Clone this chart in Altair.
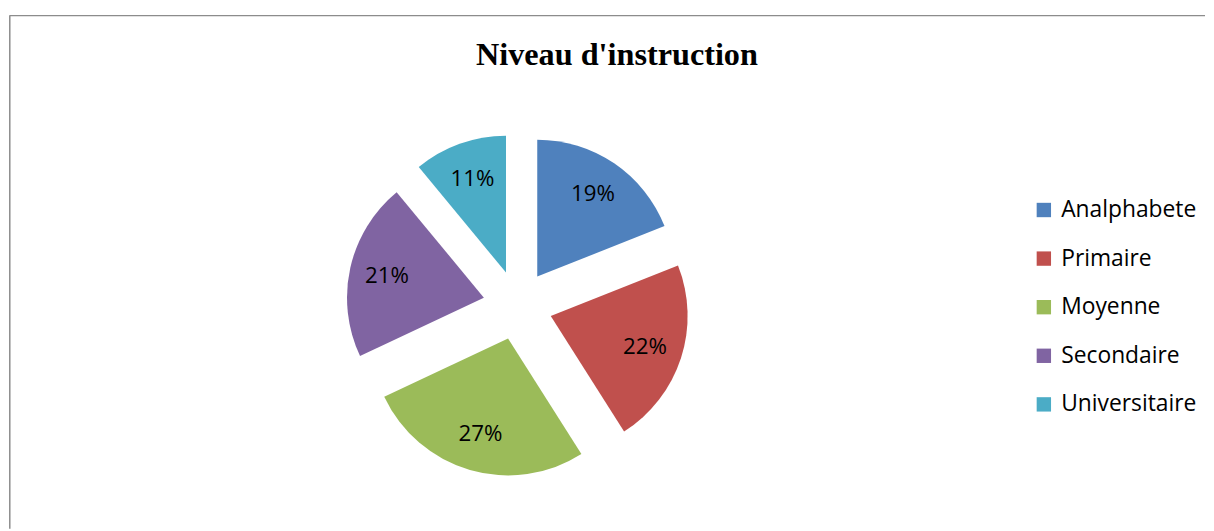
import altair as alt
import pandas as pd

# ---- data ----
categories = ["Analphabete", "Primaire", "Moyenne", "Secondaire", "Universitaire"]
values = [19, 22, 27, 21, 11]
colors = ["#4F81BD", "#C0504D", "#9BBB59", "#8064A2", "#4BACC6"]
title_text = "Niveau d'instruction"

# ---- layout ----
W, H = 1206, 523
CX, CY = 513, 297.5
R = 138
EXPLODE = 35
LABEL_R = 135

df = pd.DataFrame({"cat": categories, "value": values, "order": list(range(len(categories)))})

base = (
    alt.Chart(df)
    .transform_window(cum="sum(value)", sort=[alt.SortField("order")], frame=[None, 0])
    .transform_joinaggregate(total="sum(value)")
    .transform_calculate(
        t0="2*PI*(datum.cum - datum.value)/datum.total",
        t1="2*PI*datum.cum/datum.total",
        mid="2*PI*(datum.cum - datum.value/2)/datum.total",
    )
    .transform_calculate(
        px=f"{CX} + {EXPLODE}*sin(datum.mid)",
        py=f"{CY} - {EXPLODE}*cos(datum.mid)",
        lx=f"{CX} + {LABEL_R}*sin(datum.mid)",
        ly=f"{CY} - {LABEL_R}*cos(datum.mid)",
        label="datum.value + '%'",
    )
)

arcs = base.mark_arc(outerRadius=R, stroke=None).encode(
    x=alt.X("px:Q", scale=None),
    y=alt.Y("py:Q", scale=None),
    theta=alt.Theta("t0:Q", scale=None),
    theta2="t1:Q",
    color=alt.Color(
        "cat:N",
        scale=alt.Scale(domain=categories, range=colors),
        sort=categories,
        legend=alt.Legend(
            title=None,
            orient="none",
            legendX=1032,
            legendY=190,
            symbolType="square",
            symbolSize=210,
            symbolStrokeWidth=0,
            labelFont="Open Sans",
            labelFontSize=23,
            labelColor="#000000",
            labelOffset=6,
            rowPadding=25,
            padding=0,
        ),
    ),
)

labels = base.mark_text(
    font="Open Sans", fontSize=22.5, color="#000000", align="center", baseline="middle"
).encode(
    x=alt.X("lx:Q", scale=None),
    y=alt.Y("ly:Q", scale=None),
    text="label:N",
)

title = alt.Chart(pd.DataFrame({"t": [title_text]})).mark_text(
    font="Liberation Serif", fontSize=32.5, fontWeight="bold", color="#000000",
    align="center", baseline="alphabetic"
).encode(x=alt.value(613), y=alt.value(55), text="t:N")

frame_top = alt.Chart(pd.DataFrame({"a": [0]})).mark_rule(color="#8c8c8c", strokeWidth=1.5).encode(
    x=alt.value(0.5), x2=alt.value(W), y=alt.value(5.5)
)
frame_left = alt.Chart(pd.DataFrame({"a": [0]})).mark_rule(color="#8c8c8c", strokeWidth=1.5).encode(
    x=alt.value(0.8), y=alt.value(5.5), y2=alt.value(H)
)

chart = (
    alt.layer(frame_top, frame_left, arcs, labels, title)
    .properties(width=W, height=H, padding=0)
    .configure_view(stroke=None)
)

chart.save("out.html", embed_options={"renderer": "svg", "actions": False})
